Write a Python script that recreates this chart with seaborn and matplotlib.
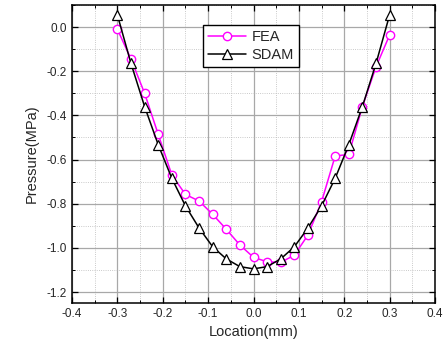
import numpy as np
import pandas as pd
import matplotlib
matplotlib.use("Agg")
import matplotlib.pyplot as plt
from matplotlib.ticker import MultipleLocator, FormatStrFormatter
import seaborn as sns

location = [-0.30, -0.27, -0.24, -0.21, -0.18, -0.15, -0.12, -0.09, -0.06, -0.03, 0.0,
            0.03, 0.06, 0.09, 0.12, 0.15, 0.18, 0.21, 0.24, 0.27, 0.30]
fea = [-0.01, -0.145, -0.30, -0.486, -0.67, -0.758, -0.788, -0.848, -0.916, -0.987, -1.043,
       -1.063, -1.066, -1.033, -0.942, -0.791, -0.584, -0.577, -0.36, -0.18, -0.036]
sdam = [0.055, -0.165, -0.36, -0.533, -0.685, -0.81, -0.91, -0.995, -1.05, -1.085, -1.095,
        -1.085, -1.05, -0.995, -0.91, -0.81, -0.685, -0.533, -0.36, -0.165, 0.055]

sns.set_style("white")
plt.rcParams['font.family'] = ['Liberation Sans', 'DejaVu Sans']

fig = plt.figure(figsize=(4.43, 3.52), dpi=100)
ax = fig.add_axes([0.1625, 0.139, 0.8195, 0.847])

df_fea = pd.DataFrame({"x": location, "y": fea})
df_sdam = pd.DataFrame({"x": location, "y": sdam})

sns.lineplot(data=df_fea, x="x", y="y", ax=ax, color="#ff00ff", lw=1.1,
             marker="o", markersize=6, markerfacecolor="white",
             markeredgecolor="#ff00ff", markeredgewidth=1.0, label="FEA", zorder=3)
sns.lineplot(data=df_sdam, x="x", y="y", ax=ax, color="black", lw=1.1,
             marker="^", markersize=7, markerfacecolor="white",
             markeredgecolor="black", markeredgewidth=0.9, label="SDAM", zorder=4)

ax.set_xlim(-0.4, 0.4)
ax.set_ylim(-1.25, 0.1)
ax.xaxis.set_major_locator(MultipleLocator(0.1))
ax.xaxis.set_minor_locator(MultipleLocator(0.05))
ax.yaxis.set_major_locator(MultipleLocator(0.2))
ax.yaxis.set_minor_locator(MultipleLocator(0.1))
ax.xaxis.set_major_formatter(FormatStrFormatter('%.1f'))
ax.yaxis.set_major_formatter(FormatStrFormatter('%.1f'))

ax.grid(True, which='major', color='#a8a8a8', lw=0.9, ls='-')
ax.grid(True, which='minor', color='#b8b8b8', lw=0.6, ls=':')
ax.set_axisbelow(True)

ax.tick_params(which='both', direction='in', top=True, right=True, bottom=True, left=True,
               color='black', labelsize=8.5)
ax.tick_params(which='major', length=4, width=0.9)
ax.tick_params(which='minor', length=2, width=0.7)
for s in ax.spines.values():
    s.set_color('black')
    s.set_linewidth(1.1)

ax.set_xlabel("Location(mm)", fontsize=10.5, labelpad=4)
ax.set_ylabel("Pressure(MPa)", fontsize=10.5, labelpad=6)

leg = ax.legend(loc='upper left', bbox_to_anchor=(0.36, 0.933), fontsize=10.5,
                frameon=True, fancybox=False, edgecolor='black', framealpha=1,
                handlelength=2.6, borderpad=0.35, labelspacing=0.25, handletextpad=0.4,
                borderaxespad=0)
leg.get_frame().set_linewidth(1.0)

fig.savefig("out.png", dpi=100)
